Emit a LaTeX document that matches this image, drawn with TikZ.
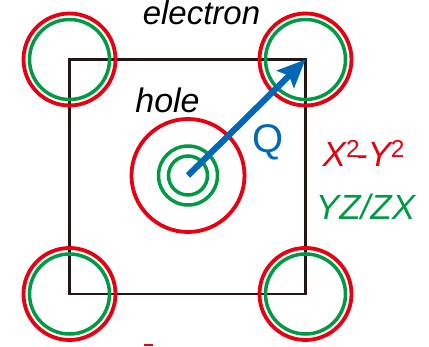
\documentclass[tikz,border=0pt]{standalone}
\usepackage{fontspec}
\setmainfont{Liberation Sans}
\usepackage{tikz}
\usetikzlibrary{arrows.meta,positioning}
\usepackage{xcolor}
\definecolor{ink}{RGB}{35,24,21}
\definecolor{orbR}{RGB}{230,0,18}
\definecolor{orbG}{RGB}{0,153,68}
\definecolor{qblue}{RGB}{0,104,183}
\tikzset{
  cell/.style={draw=ink,line width=2.8pt},
  ringR/.style={draw=orbR,line width=3.8pt},
  ringG/.style={draw=orbG,line width=3.5pt},
  qarr/.style={draw=qblue,line width=6.2pt,-{Stealth[length=28pt,width=24pt,inset=5pt]}},
  lbl/.style={font=\fontsize{33}{36}\selectfont\itshape,inner sep=0pt,anchor=base},
  orbtxt/.style={font=\fontsize{35}{38}\selectfont\itshape,inner sep=0pt,anchor=base},
}

\begin{document}
\begin{tikzpicture}[x=1pt,y=1pt]
\useasboundingbox (0,0) rectangle (429,346);
\coordinate (tl) at (69.5,286.5);
\coordinate (tr) at (305.5,286.5);
\coordinate (bl) at (69.5,52);
\coordinate (br) at (305.5,52);
\coordinate (gam) at (188,170.5);
% unit cell
\draw[cell] (tl) -- (tr) -- (br) -- (bl) -- cycle;
% electron pockets at the corners
\foreach \p in {tl,tr,bl,br}{
  \draw[ringR] (\p) circle[radius=46pt];
  \draw[ringG] (\p) circle[radius=40pt];
}
% hole pockets at the centre
\draw[ringR] (gam) circle[radius=56.5pt];
\draw[ringG] (gam) circle[radius=29.5pt];
\draw[ringG] (gam) circle[radius=19.5pt];
\draw[qarr] (gam) -- (tr);
\node[lbl] (elec) at (201.5,321) {electron};
\node[lbl,font=\fontsize{34}{38}\selectfont\itshape] (hole) at (167.5,233) {hole};
\node[lbl,font=\fontsize{40}{44}\selectfont,text=qblue] (q) at (268,193) {Q};
\node[orbtxt,anchor=base west,text=orbR] (xy) at (322.5,179)
  {X\textsuperscript{\upshape 2}\kern-0.12em-Y\textsuperscript{\upshape 2}};
\node[orbtxt,text=orbG] (yz) at (365.5,126) {YZ/ZX};
\fill[orbR] (144,0) rectangle (153,2);
\end{tikzpicture}
\end{document}
